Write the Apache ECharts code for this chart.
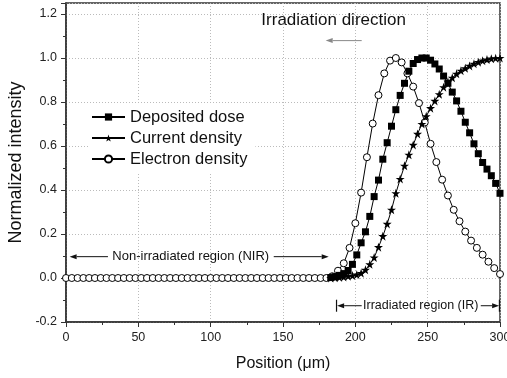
<!DOCTYPE html>
<html>
<head>
<meta charset="utf-8">
<script src="https://cdn.jsdelivr.net/npm/echarts@6/dist/echarts.min.js"></script>
<style>
  html, body { margin: 0; padding: 0; background: #fff; }
  #chart { width: 507px; height: 378px; }
</style>
</head>
<body>
<div id="chart"></div>
<script>
// Positions (µm) and normalized intensities of the three profiles
const electronX = [0,4,8,12,16,20,24,28,32,36,40,44,48,52,56,60,64,68,72,76,80,84,88,92,96,100,104,108,112,116,120,124,128,132,136,140,144,148,152,156,160,164,168,172,176,180,184,188,192,196,200,204,208,212,216,220,224,228,232,236,240,244,248,252,256,260,264,268,272,276,280,284,288,292,296,300];
const electronY = [0,0,0,0,0,0,0,0,0,0,0,0,0,0,0,0,0,0,0,0,0,0,0,0,0,0,0,0,0,0,0,0,0,0,0,0,0,0,0,0,0,0,0,0,0,0,
  0.008,0.033,0.067,0.137,0.249,0.388,0.549,0.702,0.831,0.930,0.988,1.000,0.980,0.930,0.870,0.795,0.707,0.610,0.527,0.447,0.375,0.310,0.258,0.211,0.170,0.137,0.106,0.074,0.045,0.018];

const doseX = [183,186,189,192,195,198,201,204,207,210,213,216,219,222,225,228,231,234,237,240,243,246,249,252,255,258,261,264,267,270,273,276,279,282,285,288,291,294,297,300];
const doseY = [0.002,0.006,0.012,0.020,0.034,0.062,0.105,0.160,0.210,0.280,0.370,0.445,0.540,0.615,0.690,0.765,0.830,0.885,0.940,0.975,0.993,1.000,1.000,0.990,0.973,0.950,0.918,0.885,0.845,0.805,0.758,0.708,0.660,0.610,0.565,0.525,0.495,0.465,0.430,0.385];

const currentX = [183,186,189,192,195,198,201,204,207,210,213,216,219,222,225,228,231,234,237,240,243,246,249,252,255,258,261,264,267,270,273,276,279,282,285,288,291,294,297,300];
const currentY = [0.000,0.001,0.003,0.005,0.008,0.011,0.015,0.022,0.037,0.062,0.093,0.140,0.190,0.246,0.310,0.385,0.450,0.510,0.560,0.605,0.655,0.700,0.735,0.772,0.805,0.835,0.867,0.892,0.910,0.928,0.942,0.953,0.964,0.974,0.981,0.988,0.993,0.997,0.999,1.000];

const seriesNames = ['Deposited dose', 'Current density', 'Electron density'];

const FONT = '"Liberation Sans", Arial, Helvetica, sans-serif';
const STAR = 'path://M50,0 L61.8,35.1 L98.9,35.1 L68.8,57.3 L80.2,92.7 L50,70.5 L19.8,92.7 L31.2,57.3 L1.1,35.1 L38.2,35.1 Z';

const pairs = (xs, ys) => xs.map((x, i) => [x, ys[i]]);

const chart = echarts.init(document.getElementById('chart'), null, { renderer: 'canvas' });

const axisCommon = {
  type: 'value',
  nameLocation: 'middle',
  axisLine: { show: true, onZero: false, lineStyle: { color: '#333', width: 1.5 } },
  axisTick: { show: true, inside: false, length: 5, lineStyle: { color: '#333', width: 1 } },
  minorTick: { show: true, splitNumber: 2, length: 3, lineStyle: { color: '#333', width: 1 } },
  splitLine: { show: true, lineStyle: { color: '#bbb', width: 1, type: [1, 2] } },
  axisLabel: { fontSize: 12.5, margin: 9, color: '#222', fontFamily: FONT }
};

chart.setOption({
  animation: false,
  backgroundColor: '#fff',
  grid: {
    left: 66, right: 7, top: 3, bottom: 56,
    containLabel: false, outerBoundsMode: 'none',
    show: true, borderColor: '#333', borderWidth: 1.5
  },
  xAxis: Object.assign({}, axisCommon, {
    min: 0, max: 300, interval: 50,
    name: 'Position (μm)', nameGap: 34,
    nameTextStyle: { fontSize: 16, color: '#111', fontFamily: FONT }
  }),
  yAxis: Object.assign({}, axisCommon, {
    min: -0.2, max: 1.25, interval: 0.2,
    name: 'Normalized intensity', nameGap: 36,
    nameTextStyle: { fontSize: 18, color: '#111', fontFamily: FONT },
    axisLabel: Object.assign({}, axisCommon.axisLabel, {
      formatter: v => (v > 1.21 ? '' : v.toFixed(1))
    })
  }),
  legend: {
    orient: 'vertical', left: 88, top: 103,
    padding: [4, 8, 4, 3], backgroundColor: '#fff',
    itemWidth: 33, itemHeight: 9, itemGap: 1,
    textStyle: { fontSize: 16.5, color: '#111', lineHeight: 20, fontFamily: FONT },
    data: seriesNames
  },
  series: [
    {
      name: seriesNames[2], type: 'line', data: pairs(electronX, electronY),
      symbol: 'circle', symbolSize: 7, showSymbol: true,
      lineStyle: { color: '#000', width: 1 },
      itemStyle: { color: '#fff', borderColor: '#000', borderWidth: 1 }
    },
    {
      name: seriesNames[0], type: 'line', data: pairs(doseX, doseY),
      symbol: 'rect', symbolSize: 7, showSymbol: true,
      lineStyle: { color: '#000', width: 1 },
      itemStyle: { color: '#000' }
    },
    {
      name: seriesNames[1], type: 'line', data: pairs(currentX, currentY),
      symbol: STAR, symbolSize: 9, showSymbol: true,
      lineStyle: { color: '#000', width: 1 },
      itemStyle: { color: '#000' }
    }
  ]
});

// Annotations placed in data coordinates
const toPx = p => chart.convertToPixel({ gridIndex: 0 }, p);

function arrow(from, to, color) {
  const a = toPx(from), b = toPx(to);
  const dx = b[0] - a[0], dy = b[1] - a[1];
  const len = Math.hypot(dx, dy) || 1;
  const ux = dx / len, uy = dy / len;
  const hl = 7, hw = 2.5;
  const bx = b[0] - ux * hl, by = b[1] - uy * hl;
  return [
    { type: 'line', shape: { x1: a[0], y1: a[1], x2: bx, y2: by }, style: { stroke: color, lineWidth: 1 }, z: 50 },
    { type: 'polygon', shape: { points: [[b[0], b[1]], [bx - uy * hw, by + ux * hw], [bx + uy * hw, by - ux * hw]] }, style: { fill: color }, z: 50 }
  ];
}

function bar(at, half, color) {
  const p = toPx(at);
  return { type: 'line', shape: { x1: p[0], y1: p[1] - half, x2: p[0], y2: p[1] + half }, style: { stroke: color, lineWidth: 1.2 }, z: 50 };
}

function label(text, at, size) {
  const p = toPx(at);
  return { type: 'text', x: p[0], y: p[1], z: 50,
    style: { text: text, fill: '#111', fontSize: size, fontFamily: FONT, align: 'center', verticalAlign: 'middle' } };
}

const nirY = 0.097, irY = -0.126, dirY = 1.173, dirArrowY = 1.079;
const elements = [].concat(
  [label('Irradiation direction', [185, dirY], 17)],
  arrow([204.4, dirArrowY], [179.5, dirArrowY], '#888'),
  [label('Non-irradiated region (NIR)', [86.2, nirY], 13)],
  arrow([29, nirY], [2.5, nirY], '#111'),
  arrow([143.6, nirY], [181.6, nirY], '#111'),
  [label('Irradiated region (IR)', [245.2, irY], 12.5), bar([187, irY], 6, '#111'), bar([299.6, irY], 6, '#111')],
  arrow([204.4, irY], [187.4, irY], '#111'),
  arrow([286.7, irY], [299.4, irY], '#111')
);
chart.setOption({ graphic: { elements: elements } });
</script>
</body>
</html>
